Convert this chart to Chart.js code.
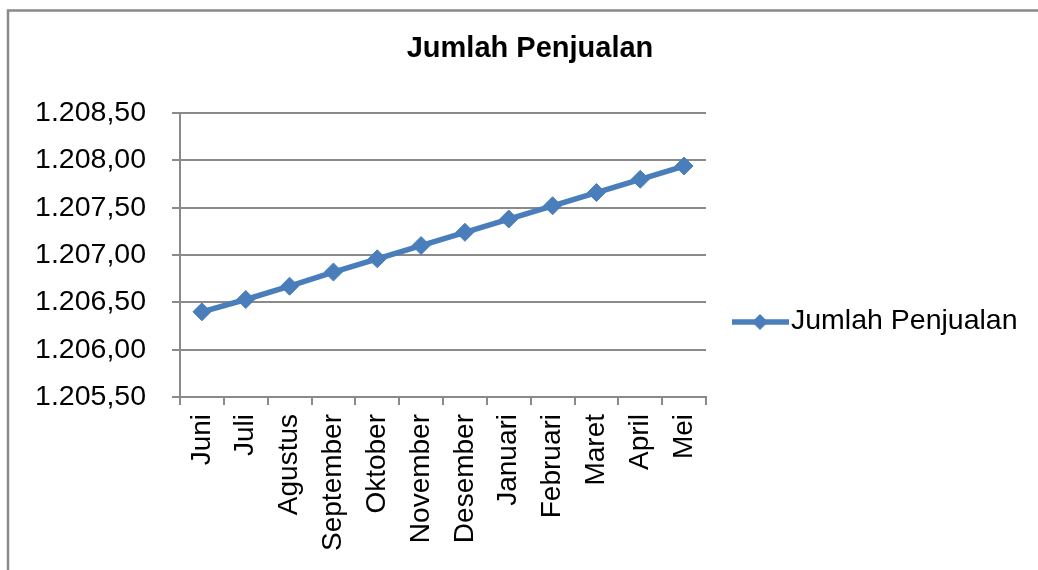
<!DOCTYPE html>
<html>
<head>
<meta charset="utf-8">
<script src="https://cdn.jsdelivr.net/npm/chart.js@4/dist/chart.umd.min.js"></script>
<style>
  html, body { margin: 0; padding: 0; background: #ffffff; }
  #wrap { position: relative; width: 1038px; height: 570px; }
</style>
</head>
<body>
<div id="wrap"><canvas id="c"></canvas></div>
<script>
// ---- data ----
const chartTitle = "Jumlah Penjualan";
const seriesName = "Jumlah Penjualan";
const categories = ["Juni", "Juli", "Agustus", "September", "Oktober", "November",
                    "Desember", "Januari", "Februari", "Maret", "April", "Mei"];
const values = [1206.40, 1206.53, 1206.67, 1206.82, 1206.96, 1207.10,
                1207.24, 1207.38, 1207.52, 1207.66, 1207.80, 1207.94];
const yMin = 1205.5;
const yMax = 1208.5;
const yStep = 0.5;

// ---- styles ----
const FONT = "'Liberation Sans', Arial, sans-serif";
const BLUE = '#4a7ebb';
const GRAY = '#8a8a8a';

function fmtId(v) {
  const s = v.toFixed(2);
  const parts = s.split('.');
  return parts[0].replace(/\B(?=(\d{3})+(?!\d))/g, '.') + ',' + parts[1];
}

const framePlugin = {
  id: 'frame',
  beforeDraw(chart) {
    const ctx = chart.ctx;
    ctx.save();
    ctx.fillStyle = '#ffffff';
    ctx.fillRect(0, 0, chart.width, chart.height);
    ctx.strokeStyle = GRAY;
    ctx.lineWidth = 2.5;
    ctx.beginPath();
    ctx.moveTo(8, chart.height + 5);
    ctx.lineTo(8, 10.5);
    ctx.lineTo(chart.width + 5, 10.5);
    ctx.stroke();
    ctx.restore();
  }
};

const titleLegendPlugin = {
  id: 'titleLegend',
  afterDraw(chart) {
    const ctx = chart.ctx;
    ctx.save();
    // title
    ctx.fillStyle = '#000000';
    ctx.font = "bold 29px " + FONT;
    ctx.textAlign = 'center';
    ctx.textBaseline = 'middle';
    ctx.fillText(chartTitle, 530, 49);
    // legend
    const ds = chart.data.datasets[0];
    const ly = 322;
    ctx.strokeStyle = ds.borderColor;
    ctx.lineWidth = ds.borderWidth;
    ctx.beginPath();
    ctx.moveTo(732, ly);
    ctx.lineTo(789, ly);
    ctx.stroke();
    ctx.fillStyle = ds.pointBackgroundColor;
    const r = 8;
    ctx.beginPath();
    ctx.moveTo(760, ly - r);
    ctx.lineTo(760 + r, ly);
    ctx.lineTo(760, ly + r);
    ctx.lineTo(760 - r, ly);
    ctx.closePath();
    ctx.fill();
    ctx.fillStyle = '#000000';
    ctx.font = "28.5px " + FONT;
    ctx.textAlign = 'left';
    ctx.textBaseline = 'middle';
    ctx.fillText(ds.label, 791, ly - 1);
    ctx.restore();
  }
};

new Chart(document.getElementById('c'), {
  type: 'line',
  data: {
    labels: categories,
    datasets: [{
      label: seriesName,
      data: values,
      borderColor: BLUE,
      backgroundColor: BLUE,
      borderWidth: 5.5,
      tension: 0,
      pointStyle: 'rectRot',
      pointRadius: 9,
      pointHoverRadius: 9,
      pointBackgroundColor: BLUE,
      pointBorderColor: BLUE,
      pointBorderWidth: 1
    }]
  },
  options: {
    responsive: true,
    maintainAspectRatio: false,
    animation: false,
    devicePixelRatio: 1,
    layout: { padding: { top: 113, right: 332, bottom: 0, left: 0 } },
    plugins: {
      legend: { display: false },
      title: { display: false },
      tooltip: { enabled: false }
    },
    scales: {
      x: {
        type: 'category',
        offset: true,
        afterFit(scale) { scale.height = 173; },
        grid: {
          display: true,
          offset: true,
          drawOnChartArea: false,
          drawTicks: true,
          tickLength: 8,
          color: GRAY,
          lineWidth: 2
        },
        border: { display: true, color: GRAY, width: 2 },
        ticks: {
          autoSkip: false,
          maxRotation: 90,
          minRotation: 90,
          padding: 9,
          color: '#000000',
          font: { family: FONT, size: 28 }
        }
      },
      y: {
        min: yMin,
        max: yMax,
        afterFit(scale) { scale.width = 180; },
        grid: {
          display: true,
          drawTicks: true,
          tickLength: 8,
          color: GRAY,
          lineWidth: 2
        },
        border: { display: true, color: GRAY, width: 2 },
        ticks: {
          stepSize: yStep,
          padding: 26,
          color: '#000000',
          font: { family: FONT, size: 28.5 },
          callback: (v) => fmtId(v)
        }
      }
    }
  },
  plugins: [framePlugin, titleLegendPlugin]
});
</script>
</body>
</html>
